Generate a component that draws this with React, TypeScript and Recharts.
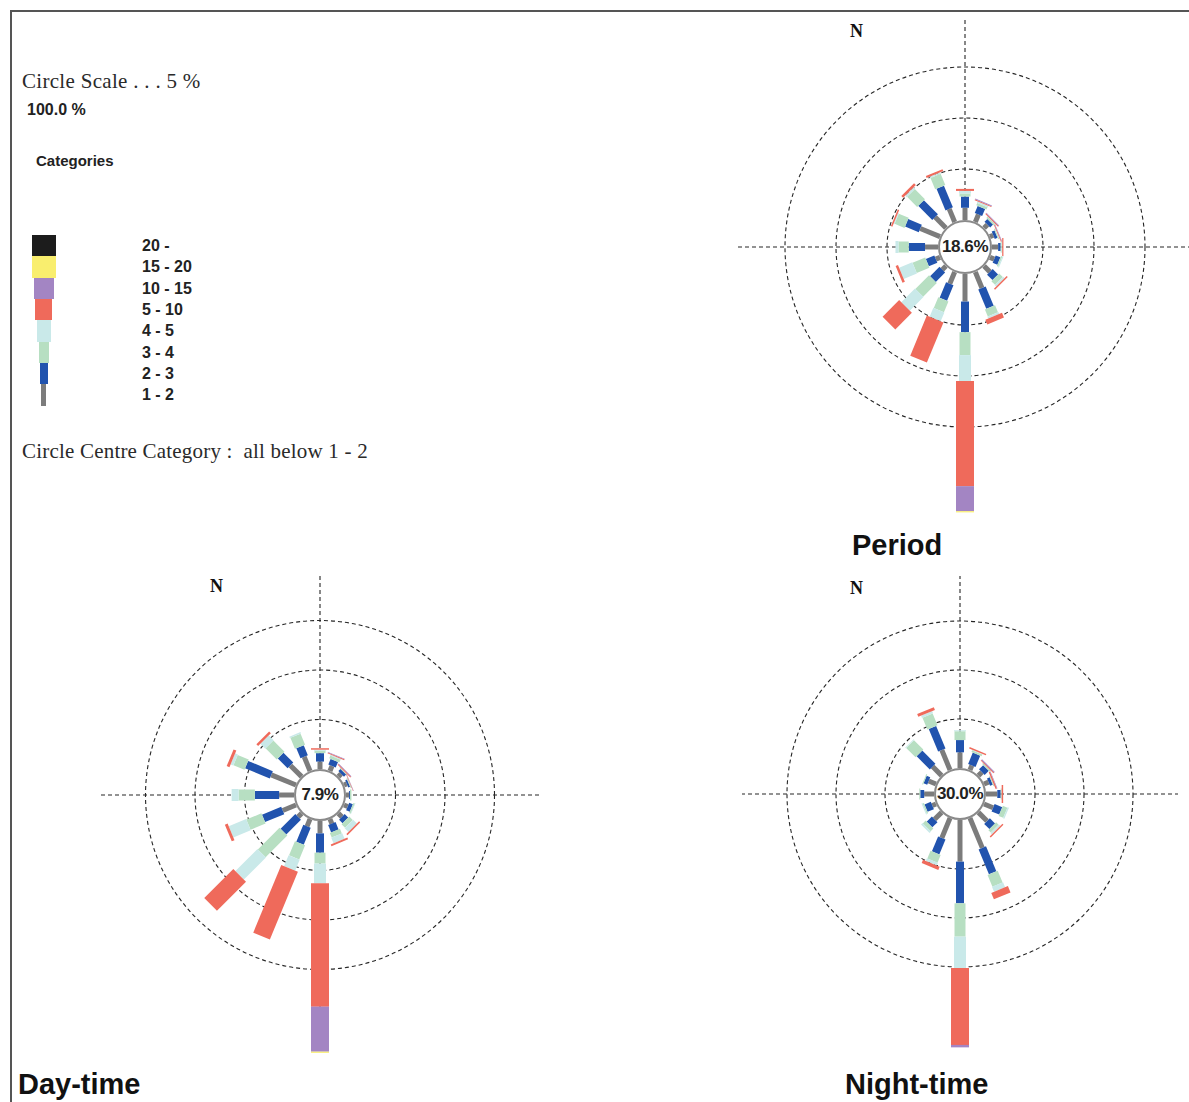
import { RadialBarChart, RadialBar, PolarGrid, PolarAngleAxis, PolarRadiusAxis } from 'recharts';

const DIRECTIONS = ['N', 'NNE', 'NE', 'ENE', 'E', 'ESE', 'SE', 'SSE', 'S', 'SSW', 'SW', 'WSW', 'W', 'WNW', 'NW', 'NNW'];

const CATEGORIES = ['20 -', '15 - 20', '10 - 15', '5 - 10', '4 - 5', '3 - 4', '2 - 3', '1 - 2'];
// index order used by the roses: 1-2, 2-3, 3-4, 4-5, 5-10, 10-15, 15-20
const COLORS = ['#7c7c7c', '#2153ae', '#b7dfc2', '#c9e9e9', '#ef6a5b', '#a385c3', '#f9ee6e', '#1c1c1c'];
const BAR_WIDTHS = [5, 8, 11, 12, 18, 18, 18, 18];
const LEGEND_WIDTHS = [5, 8, 10, 14, 17, 20, 24, 24];
const RINGS = [5, 10, 15];
const RADIUS_MAX = 25;

// Period (frequency %, per direction)
const PERIOD_1_2 = [1.2, 0.8, 0.45, 0.35, 0.6, 0.45, 0.8, 1.7, 2.7, 1.25, 0.5, 0.45, 1.27, 2.1, 1.5, 1.4];
const PERIOD_2_3 = [1.1, 0.75, 0.4, 0.3, 0.25, 0.5, 0.75, 2.05, 3.0, 1.65, 1.3, 0.9, 1.6, 1.45, 1.95, 2.3];
const PERIOD_3_4 = [0.3, 0.25, 0.15, 0.1, 0.1, 0.15, 0.5, 0.75, 2.25, 1.15, 1.9, 1.35, 1.0, 1.05, 1.4, 1.2];
const PERIOD_4_5 = [0.25, 0.15, 0.05, 0.05, 0.05, 0.1, 0.2, 0.2, 2.55, 0.95, 1.9, 1.4, 0.3, 0.1, 0.2, 0.15];
const PERIOD_5_10 = [0.2, 0.1, 0.1, 0.08, 0.12, 0, 0.15, 0.5, 10.3, 4.25, 2.3, 0.25, 0, 0.15, 0.25, 0.2];
const PERIOD_10_15 = [0, 0.08, 0.06, 0.05, 0, 0, 0, 0, 2.45, 0, 0, 0, 0, 0, 0, 0];
const PERIOD_15_20 = [0, 0, 0, 0, 0, 0, 0, 0, 0.12, 0, 0, 0, 0, 0, 0, 0];

// Day-time
const DAY_1_2 = [0.75, 0.55, 0.4, 0.3, 0.3, 0.4, 0.5, 0.5, 1.25, 0.8, 0.5, 1.45, 1.5, 2.7, 1.6, 1.55];
const DAY_2_3 = [0.85, 0.6, 0.3, 0.2, 0.1, 0.4, 0.5, 0.8, 1.95, 1.85, 2.1, 2.1, 2.45, 2.7, 1.4, 1.1];
const DAY_3_4 = [0.25, 0.3, 0.1, 0.1, 0.15, 0.15, 0.5, 0.5, 1.1, 1.55, 3.1, 1.65, 1.65, 1.2, 1.6, 1.2];
const DAY_4_5 = [0.1, 0.1, 0, 0, 0, 0.05, 0.55, 0.6, 2.0, 1.2, 3.15, 1.9, 0.7, 0.3, 0.7, 0.15];
const DAY_5_10 = [0.15, 0.1, 0.1, 0.05, 0, 0, 0.15, 0.2, 12.45, 7.4, 4.15, 0.3, 0, 0.3, 0.25, 0];
const DAY_10_15 = [0, 0.05, 0.05, 0.03, 0, 0, 0, 0, 4.55, 0, 0, 0, 0, 0, 0, 0];
const DAY_15_20 = [0, 0, 0, 0, 0, 0, 0, 0, 0.12, 0, 0, 0, 0, 0, 0, 0];

// Night-time
const NIGHT_1_2 = [1.6, 0.5, 0.5, 0.5, 1.15, 1.0, 1.25, 3.3, 4.25, 2.2, 1.0, 0.4, 1.0, 0.8, 1.3, 2.2];
const NIGHT_2_3 = [1.25, 1.25, 0.6, 0.3, 0.35, 0.85, 0.75, 2.75, 4.25, 1.65, 0.75, 0.7, 0.4, 0.4, 1.9, 2.5];
const NIGHT_3_4 = [0.9, 0.2, 0.15, 0.1, 0.1, 0.5, 0.35, 1.3, 3.4, 0.85, 0.4, 0.15, 0.1, 0.1, 1.35, 1.3];
const NIGHT_4_5 = [0.1, 0.05, 0, 0, 0, 0.15, 0.2, 0.55, 3.2, 0.3, 0.2, 0.1, 0, 0, 0.1, 0.25];
const NIGHT_5_10 = [0, 0.15, 0.1, 0.15, 0.15, 0, 0.15, 0.7, 7.85, 0.35, 0, 0, 0, 0, 0, 0.3];
const NIGHT_10_15 = [0, 0, 0.1, 0.05, 0, 0, 0, 0, 0.25, 0, 0, 0, 0, 0, 0, 0];

const RAD = Math.PI / 180;

// draws each stacked segment as a straight spoke of fixed width
const spoke = (width: number) => (props: any) => {
  const { cx, cy, innerRadius, outerRadius, startAngle, endAngle, fill } = props;
  if (!(outerRadius - innerRadius > 0.01)) return <g />;
  const a = ((startAngle + endAngle) / 2) * RAD;
  const ux = Math.cos(a);
  const uy = -Math.sin(a);
  const px = (-uy * width) / 2;
  const py = (ux * width) / 2;
  const x1 = cx + innerRadius * ux;
  const y1 = cy + innerRadius * uy;
  const x2 = cx + outerRadius * ux;
  const y2 = cy + outerRadius * uy;
  const d = `M${x1 + px},${y1 + py}L${x2 + px},${y2 + py}L${x2 - px},${y2 - py}L${x1 - px},${y1 - py}Z`;
  return <path d={d} fill={fill} />;
};

const buildRows = (series: number[][]) =>
  DIRECTIONS.map((dir, i) => {
    const row: Record<string, number | string> = { dir };
    series.forEach((s, k) => {
      row[`c${k}`] = s[i];
    });
    return row;
  });

const SIZE = 580;
const ANGLES = { startAngle: 78.75, endAngle: -281.25 };

function WindRose({ series, calm, x, y, inner, scale, cross, nx, ny }: {
  series: number[][]; calm: string; x: number; y: number; inner: number; scale: number; cross: number; nx: number; ny: number;
}) {
  const half = SIZE / 2;
  const rows = buildRows(series);
  const ringRadii = RINGS.map(v => inner + v * scale);
  const layer = { position: 'absolute' as const, left: 0, top: 0 };
  return (
    <div style={{ position: 'absolute', left: x - half, top: y - half, width: SIZE, height: SIZE }}>
      {/* grid: rings every 5 % plus the compass cross */}
      <div style={layer}>
        <RadialBarChart width={SIZE} height={SIZE} cx={half} cy={half} innerRadius={inner} outerRadius={cross}
          data={rows} layout="centric" {...ANGLES} margin={{ top: 0, right: 0, bottom: 0, left: 0 }}>
          <PolarGrid gridType="circle" polarRadius={ringRadii} polarAngles={[0, 90, 180, 270]}
            stroke="#262626" strokeWidth={1.1} strokeDasharray="4 3" />
        </RadialBarChart>
      </div>
      <div style={layer}>
        <RadialBarChart width={SIZE} height={SIZE} cx={half} cy={half} innerRadius={inner}
          outerRadius={inner + RADIUS_MAX * scale} data={rows} layout="centric" {...ANGLES}
          margin={{ top: 0, right: 0, bottom: 0, left: 0 }}>
          <PolarAngleAxis type="category" dataKey="dir" tick={false} axisLine={false} tickLine={false} />
          <PolarRadiusAxis type="number" domain={[0, RADIUS_MAX]} tick={false} axisLine={false} tickLine={false} />
          {series.map((_, k) => (
            <RadialBar key={k} dataKey={`c${k}`} stackId="w" fill={COLORS[k]} shape={spoke(BAR_WIDTHS[k])} isAnimationActive={false} />
          ))}
        </RadialBarChart>
      </div>
      <div style={{
        position: 'absolute', left: half - inner, top: half - inner, width: inner * 2 - 4, height: inner * 2 - 4,
        borderRadius: '50%', border: '2px solid #8a8a8a', background: '#fff', display: 'flex',
        alignItems: 'center', justifyContent: 'center', fontFamily: 'Arial, "Liberation Sans", sans-serif',
        fontWeight: 700, fontSize: 17, letterSpacing: -0.4, color: '#222',
      }}>{calm}</div>
      <div style={{
        position: 'absolute', left: half + nx - 8, top: half + ny - 10, fontFamily: '"Times New Roman", "Liberation Serif", serif',
        fontWeight: 700, fontSize: 18, color: '#111',
      }}>N</div>
    </div>
  );
}

const serif = '"Times New Roman", "Liberation Serif", serif';
const sans = 'Arial, "Liberation Sans", sans-serif';

export default function App() {
  const legendRows = CATEGORIES.map((label, i) => ({ label, color: COLORS[7 - i], w: LEGEND_WIDTHS[7 - i] }));
  return (
    <div style={{ position: 'fixed', left: 0, top: 0, width: 1189, height: 1102, overflow: 'hidden', background: '#fff' }}>
      <div style={{ position: 'absolute', left: 10, top: 10, width: 1200, height: 1200, borderTop: '2px solid #555', borderLeft: '2px solid #555' }} />

      <div style={{ position: 'absolute', left: 22, top: 69, fontFamily: serif, fontSize: 21, letterSpacing: 0.3, color: '#2a2a2a', whiteSpace: 'nowrap' }}>Circle Scale . . . 5 %</div>
      <div style={{ position: 'absolute', left: 27, top: 101, fontFamily: sans, fontWeight: 700, fontSize: 16, color: '#222' }}>100.0 %</div>
      <div style={{ position: 'absolute', left: 36, top: 152, fontFamily: sans, fontWeight: 700, fontSize: 15, color: '#222' }}>Categories</div>
      {legendRows.map((r, i) => (
        <div key={r.label}>
          <div style={{ position: 'absolute', left: 43.5 - r.w / 2, top: 235 + i * 21.3, width: r.w, height: 21.5, background: r.color }} />
          <div style={{ position: 'absolute', left: 142, top: 237 + i * 21.3, fontFamily: sans, fontWeight: 700, fontSize: 16, color: '#222', whiteSpace: 'nowrap' }}>{r.label}</div>
        </div>
      ))}
      <div style={{ position: 'absolute', left: 22, top: 439, fontFamily: serif, fontSize: 21, letterSpacing: 0.2, color: '#2a2a2a', whiteSpace: 'nowrap' }}>Circle Centre Category :&nbsp; all below 1 - 2</div>

      <WindRose series={[PERIOD_1_2, PERIOD_2_3, PERIOD_3_4, PERIOD_4_5, PERIOD_5_10, PERIOD_10_15, PERIOD_15_20]}
        calm="18.6%" x={965} y={247} inner={27} scale={10.2} cross={230} nx={-107} ny={-216} />
      <WindRose series={[DAY_1_2, DAY_2_3, DAY_3_4, DAY_4_5, DAY_5_10, DAY_10_15, DAY_15_20]}
        calm="7.9%" x={320} y={795} inner={26} scale={9.9} cross={220} nx={-102} ny={-209} />
      <WindRose series={[NIGHT_1_2, NIGHT_2_3, NIGHT_3_4, NIGHT_4_5, NIGHT_5_10, NIGHT_10_15]}
        calm="30.0%" x={960} y={794} inner={26} scale={9.8} cross={218} nx={-102} ny={-206} />

      <div style={{ position: 'absolute', left: 852, top: 529, fontFamily: sans, fontWeight: 700, fontSize: 29, color: '#111' }}>Period</div>
      <div style={{ position: 'absolute', left: 18, top: 1068, fontFamily: sans, fontWeight: 700, fontSize: 29, color: '#111' }}>Day-time</div>
      <div style={{ position: 'absolute', left: 845, top: 1068, fontFamily: sans, fontWeight: 700, fontSize: 29, color: '#111' }}>Night-time</div>
    </div>
  );
}
